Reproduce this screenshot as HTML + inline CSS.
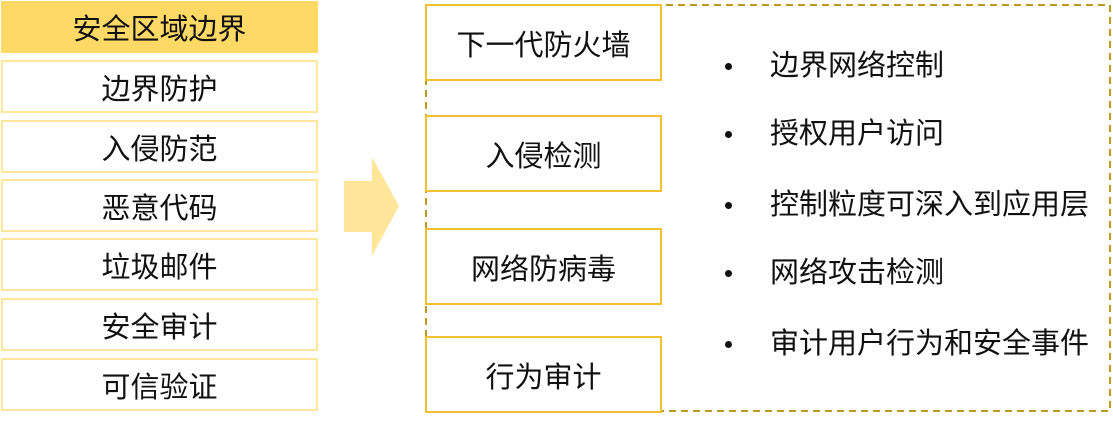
<!DOCTYPE html>
<html><head><meta charset="utf-8"><style>
body{margin:0;width:1113px;height:422px;background:#fff;position:relative;overflow:hidden;font-family:"Liberation Sans","Noto Sans CJK SC",sans-serif;color:#111}
.b{position:absolute;box-sizing:border-box;display:flex;align-items:center;justify-content:center;font-size:29px}
.l{left:1px;width:317px;height:53px;border:2px solid #FFE699}
.r{left:425px;width:237px;height:77px;border:2px solid #F0C030;background:#fff}
.t{position:absolute;left:770px;font-size:29px;line-height:32px;white-space:nowrap}
.d{position:absolute;left:725px;width:7px;height:7px;border-radius:50%;background:#111}
</style></head><body>
<div class="b" style="left:1px;top:1px;width:317px;height:52px;background:#FFD966">安全区域边界</div>
<div class="b l" style="top:60px">边界防护</div>
<div class="b l" style="top:120px">入侵防范</div>
<div class="b l" style="top:179px">恶意代码</div>
<div class="b l" style="top:238px">垃圾邮件</div>
<div class="b l" style="top:298px">安全审计</div>
<div class="b l" style="top:358px">可信验证</div>
<svg style="position:absolute;left:0;top:0" width="1113" height="422">
<polygon points="344,181 372,181 372,157 399,206 372,256 372,232 344,232" fill="#FFE699"/>
<rect x="426" y="5" width="684" height="406" fill="none" stroke="#C09A20" stroke-width="2" stroke-dasharray="7,5"/>
</svg>
<div class="b r" style="top:4px">下一代防火墙</div>
<div class="b r" style="top:115px">入侵检测</div>
<div class="b r" style="top:228px">网络防病毒</div>
<div class="b r" style="top:336px">行为审计</div>
<div class="d" style="top:63px"></div><div class="t" style="top:50px">边界网络控制</div>
<div class="d" style="top:131px"></div><div class="t" style="top:118px">授权用户访问</div>
<div class="d" style="top:202px"></div><div class="t" style="top:189px">控制粒度可深入到应用层</div>
<div class="d" style="top:270px"></div><div class="t" style="top:257px">网络攻击检测</div>
<div class="d" style="top:341px"></div><div class="t" style="top:328px">审计用户行为和安全事件</div>
</body></html>
